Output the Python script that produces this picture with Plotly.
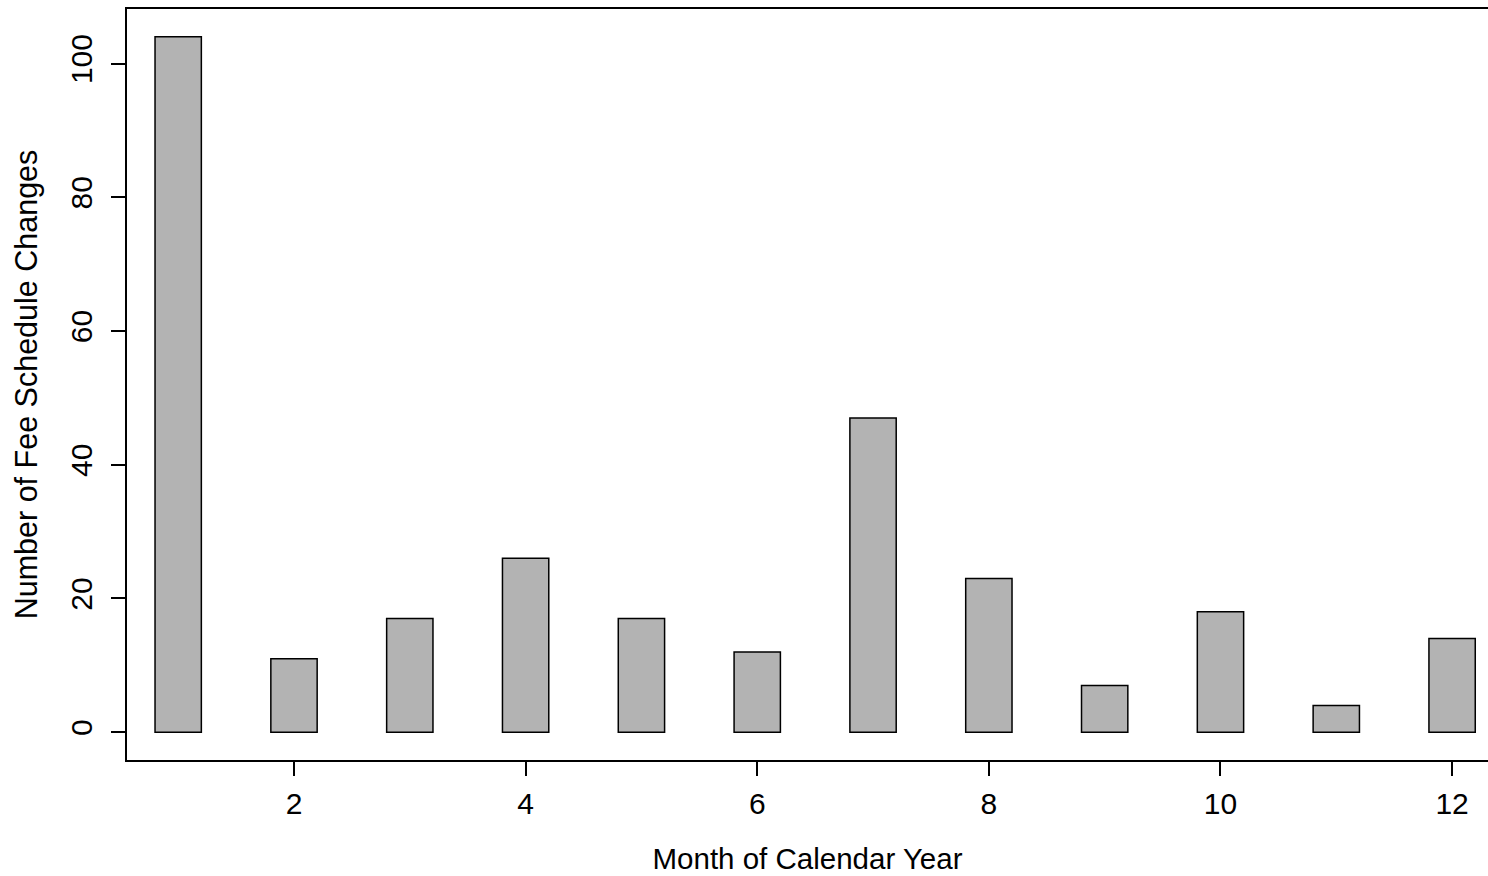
import plotly.graph_objects as go

# Monthly counts of fee schedule changes
months = [1, 2, 3, 4, 5, 6, 7, 8, 9, 10, 11, 12]
changes = [104, 11, 17, 26, 17, 12, 47, 23, 7, 18, 4, 14]

x_ticks = [2, 4, 6, 8, 10, 12]
y_ticks = [0, 20, 40, 60, 80, 100]

FONT = "Liberation Sans, Arial, Helvetica, sans-serif"

fig = go.Figure(
    go.Bar(
        x=months,
        y=changes,
        width=0.4,
        marker=dict(color="#B3B3B3", line=dict(color="black", width=1.5)),
        hoverinfo="x+y",
    )
)

fig.update_layout(
    width=1488,
    height=876,
    margin=dict(l=127, r=0, t=9, b=116),
    paper_bgcolor="white",
    plot_bgcolor="white",
    font=dict(family=FONT, size=30, color="black"),
    showlegend=False,
)

fig.update_xaxes(
    range=[0.558, 12.31],
    tickmode="array",
    tickvals=x_ticks,
    ticktext=[str(v) for v in x_ticks],
    tickfont=dict(size=30),
    ticks="outside",
    ticklen=14,
    tickwidth=1.5,
    tickcolor="black",
    showline=True,
    linecolor="black",
    linewidth=1.5,
    mirror=True,
    showgrid=False,
    zeroline=False,
    ticklabelstandoff=2,
    title=dict(text="Month of Calendar Year", standoff=30, font=dict(size=29.5)),
)

fig.update_yaxes(
    range=[-4.16, 108.16],
    tickmode="array",
    tickvals=y_ticks,
    ticktext=[str(v) for v in y_ticks],
    tickfont=dict(size=30),
    tickangle=-90,
    ticks="outside",
    ticklen=14,
    tickwidth=1.5,
    tickcolor="black",
    showline=True,
    linecolor="black",
    linewidth=1.5,
    mirror=False,
    showgrid=False,
    zeroline=False,
    ticklabelstandoff=7,
    title=dict(text="Number of Fee Schedule Changes", standoff=19, font=dict(size=30.5)),
)

fig.write_html("out.html")
